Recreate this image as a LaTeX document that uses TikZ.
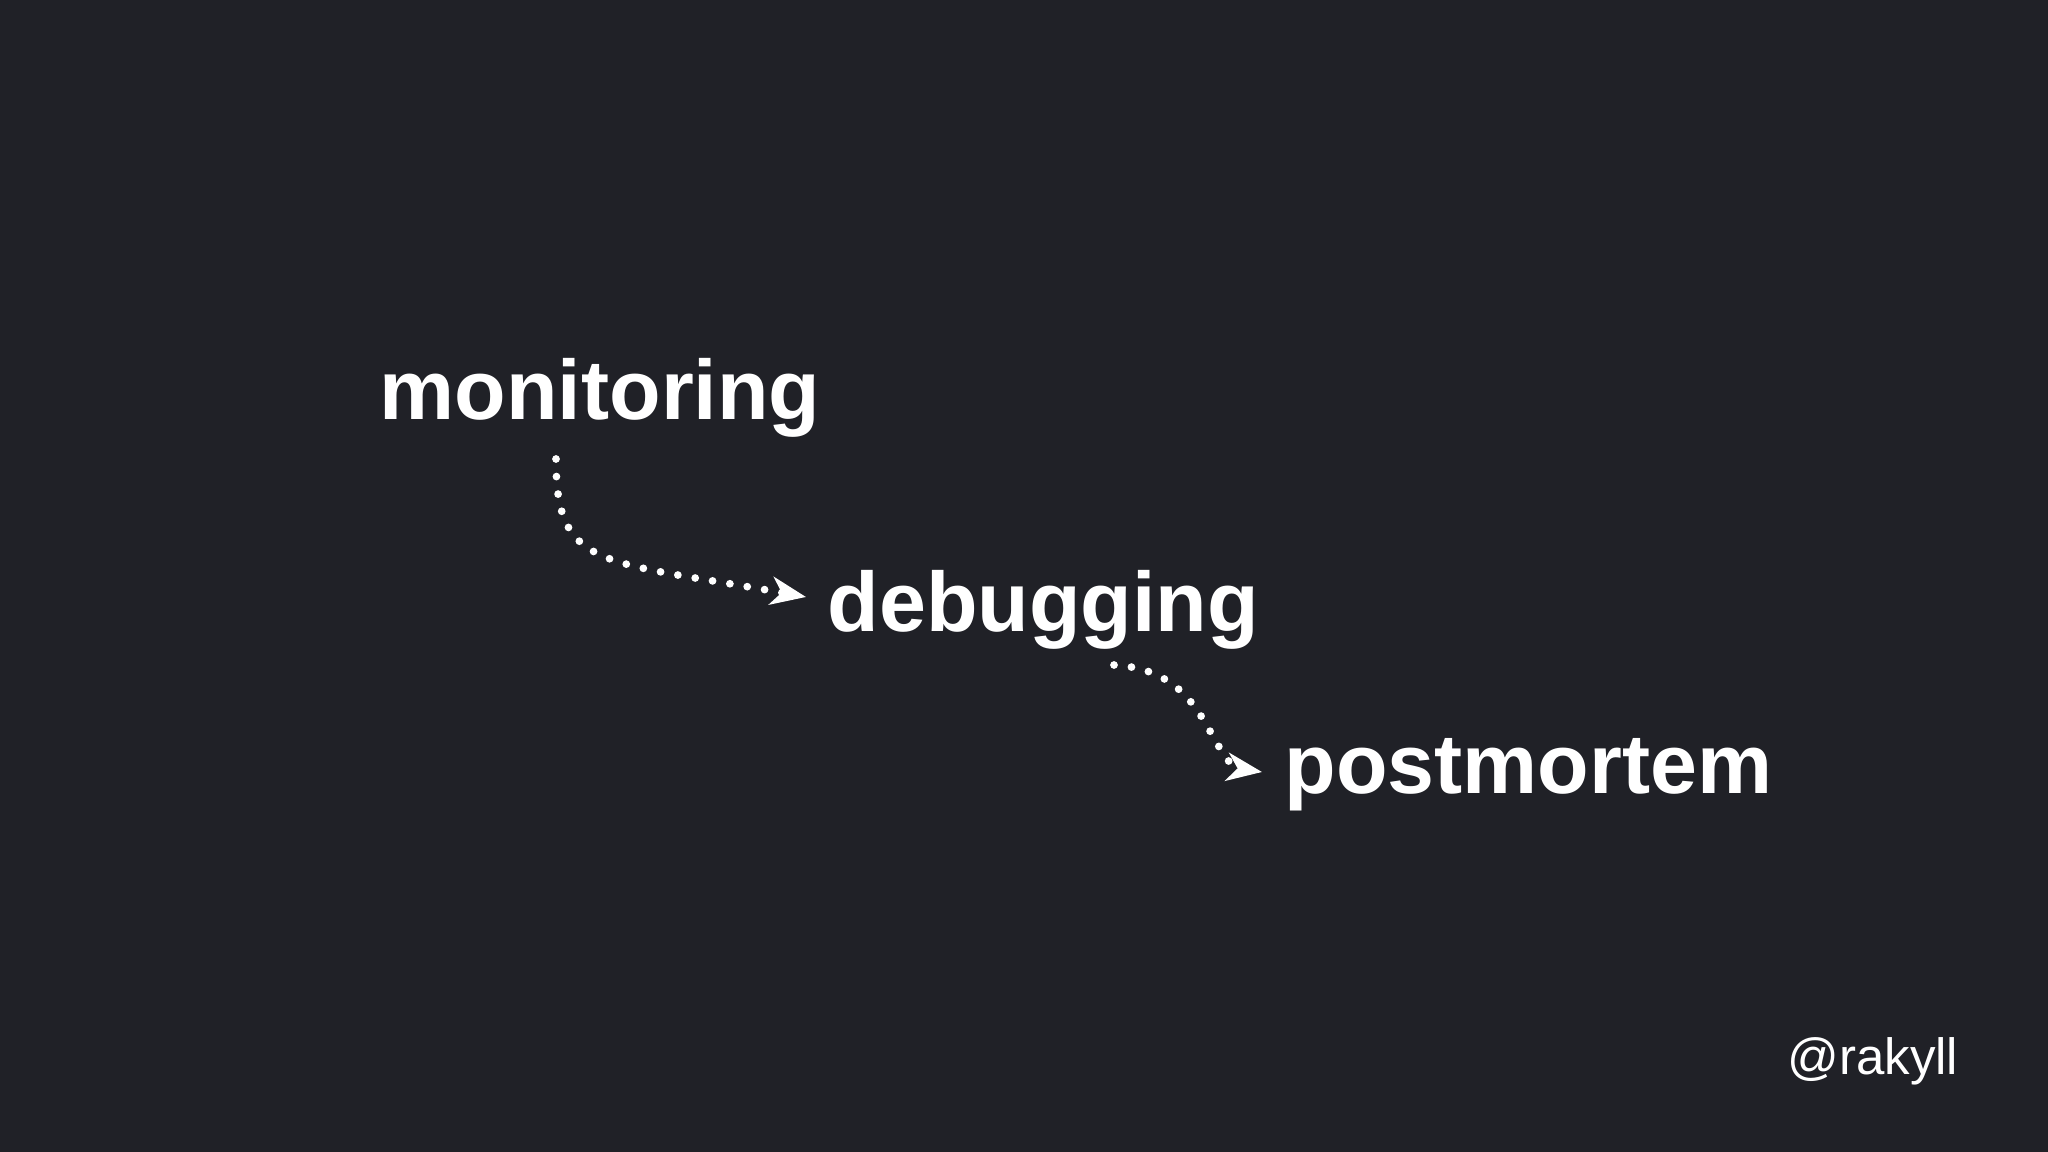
\documentclass[tikz,border=0pt]{standalone}
\usepackage{fontspec}
\setmainfont{Liberation Sans}
\usetikzlibrary{arrows.meta}
\definecolor{bg}{HTML}{202127}
\tikzset{
  word/.style={anchor=base west, inner sep=0pt, text=white, font=\fontsize{24}{28}\selectfont\bfseries},
  flow/.style={white, line width=2.2pt, dash pattern=on 0pt off 5pt, line cap=round, -{Stealth[length=10pt,width=8pt,inset=3pt,line cap=butt]}}
}
\begin{document}
\begin{tikzpicture}[x=0.01cm,y=-0.01cm]
\fill[bg] (0,0) rectangle (2048,1152);
\useasboundingbox (0,0) rectangle (2048,1152);
\node[word] (mon) at (379,420) {monitoring};
\node[word] (deb) at (827,631) {debugging};
\node[word] (post) at (1284,793) {postmortem};
\node[anchor=base east, inner sep=0pt, text=white, font=\fontsize{14.5}{17}\selectfont] (h) at (1959,1074) {@rakyll};
\coordinate (a1) at (556,459);
\coordinate (b1) at (806,597);
\coordinate (a2) at (1114,665);
\coordinate (b2) at (1262,772);
\draw[flow] (a1) .. controls (556,570) and (600,560) .. (b1);
\draw[flow] (a2) .. controls (1200,670) and (1205,740) .. (1235,768) -- (b2);
\end{tikzpicture}
\end{document}
